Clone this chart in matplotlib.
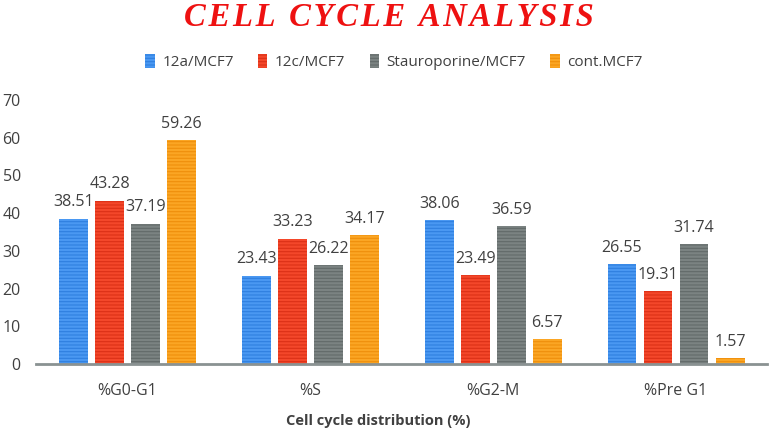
import matplotlib.pyplot as plt
import numpy as np

plt.rcParams['hatch.linewidth'] = 0.8

# ── Data ──────────────────────────────────────────────────────────────────────
categories = ["%G0-G1", "%S", "%G2-M", "%Pre G1"]
series_names = ["12a/MCF7", "12c/MCF7", "Stauroporine/MCF7", "cont.MCF7"]
vals_12a = [38.51, 23.43, 38.06, 26.55]
vals_12c = [43.28, 33.23, 23.49, 19.31]
vals_stauro = [37.19, 26.22, 36.59, 31.74]
vals_cont = [59.26, 34.17, 6.57, 1.57]
y_ticks = [0, 10, 20, 30, 40, 50, 60, 70]

series_vals = [vals_12a, vals_12c, vals_stauro, vals_cont]
face_cols = ["#4a98f2", "#f4472a", "#7b8382", "#fba624"]
hatch_cols = ["#2f7fe0", "#dc3016", "#626a69", "#ef8f0c"]
text_col = "#404040"

fig = plt.figure(figsize=(7.69, 4.29), dpi=100)
ax = fig.add_axes([0.047, 0.1515, 0.951, 0.6155])

x = np.arange(len(categories))
step, width = 0.197, 0.158

for i, (vals, fc, hc, name) in enumerate(zip(series_vals, face_cols, hatch_cols, series_names)):
    pos = x + (i - 1.5) * step
    bars = ax.bar(pos, vals, width, facecolor=fc, edgecolor=hc, hatch="-----",
                  linewidth=0, label=name)
    for b, v in zip(bars, vals):
        ax.annotate(f"{v:.2f}", (b.get_x() + b.get_width() / 2, v),
                    xytext=(0, 6), textcoords="offset points",
                    ha="center", va="bottom", fontsize=11.5,
                    color=text_col, family="Open Sans")

ax.set_xlim(-0.5, 3.5)
ax.set_ylim(0, 70)
ax.set_yticks(y_ticks)
ax.set_xticks(x)
ax.set_xticklabels(categories)
ax.tick_params(length=0, labelsize=11.5, colors=text_col, pad=14)
ax.tick_params(axis="y", labelsize=11.5, pad=11)
for lab in ax.get_xticklabels() + ax.get_yticklabels():
    lab.set_family("Open Sans")

for s in ["top", "right", "left"]:
    ax.spines[s].set_visible(False)
ax.spines["bottom"].set_color("#8a9292")
ax.spines["bottom"].set_linewidth(2)

fig.text(378 / 769, 1 - 421 / 429, "Cell cycle distribution (%)", ha="center",
         va="center", fontsize=10.5, fontweight="bold", color=text_col,
         family="Open Sans")

hair = "\u200a"
title = hair.join("CELL CYCLE ANALYSIS")
fig.text(389 / 769, 1 - 17 / 429, title, ha="center", va="center",
         fontsize=23.5, fontweight="bold", fontstyle="italic",
         family="Liberation Serif", color="#ee1111")

leg = fig.legend(loc="center", bbox_to_anchor=(394 / 769, 1 - 62 / 429), ncol=4,
                 frameon=False, handlelength=0.6, handleheight=1.0,
                 handletextpad=0.5, columnspacing=1.6,
                 prop={"family": "Open Sans", "size": 11})
for t in leg.get_texts():
    t.set_color(text_col)

fig.savefig("out.png", dpi=100)
